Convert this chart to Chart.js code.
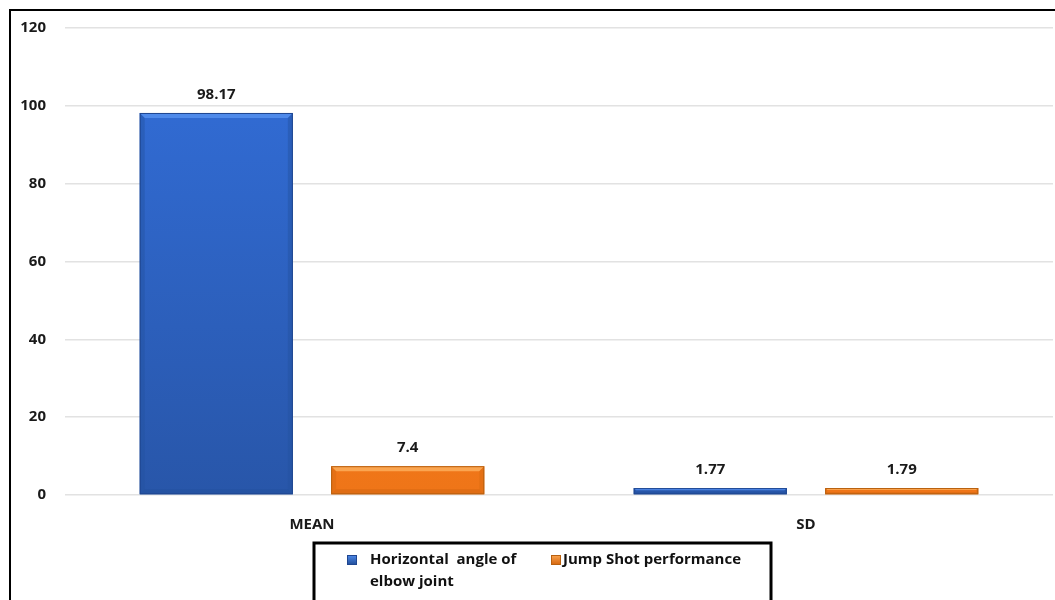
<!DOCTYPE html>
<html>
<head>
<meta charset="utf-8">
<script src="https://cdn.jsdelivr.net/npm/chart.js@4"></script>
<style>
  html, body { margin: 0; padding: 0; background: #ffffff; }
  #wrap { position: relative; width: 1055px; height: 600px; }
  #frame { position: absolute; left: 9px; top: 9px; right: 0; bottom: 0;
           border-left: 2px solid #000; border-top: 2px solid #000; pointer-events: none; }
  canvas { position: absolute; left: 0; top: 0; }
</style>
</head>
<body>
<div id="wrap">
  <canvas id="chart" width="1055" height="600"></canvas>
  <div id="frame"></div>
</div>
<script>
// Statistics shown on the x axis
const categories = ['MEAN', 'SD'];

// Series
const seriesNames = ['Horizontal  angle of elbow joint', 'Jump Shot performance'];
const elbowAngle = [98.17, 1.77];
const jumpShot = [7.4, 1.79];

// Value axis ticks
const yTicks = [0, 20, 40, 60, 80, 100, 120];

const FONT = '"Open Sans", Lato, "Liberation Sans", sans-serif';
const FONT_SIZE = 15;

// Palette: base, light edge, dark edge
const palette = [
  { base: '#2f6bd3', light: '#4f8aea', dark: '#24529f', outline: '#1f4690' },
  { base: '#f47b1c', light: '#fba550', dark: '#d86a12', outline: '#b8600f' }
];

function barGradient(ctx, i) {
  const chart = ctx.chart;
  const area = chart.chartArea;
  if (!area) return palette[i].base;
  const g = chart.ctx.createLinearGradient(0, area.top, 0, area.bottom);
  if (i === 0) {
    g.addColorStop(0, '#336fdb');
    g.addColorStop(1, '#2856a9');
  } else {
    g.addColorStop(0, '#f7851f');
    g.addColorStop(1, '#ef7518');
  }
  return g;
}

// Bevelled edges on each bar
const bevelPlugin = {
  id: 'bevel',
  afterDatasetsDraw(chart) {
    const c = chart.ctx;
    chart.data.datasets.forEach((ds, di) => {
      const meta = chart.getDatasetMeta(di);
      const p = palette[di];
      meta.data.forEach(bar => {
        const { x, y, base, width } = bar.getProps(['x', 'y', 'base', 'width'], true);
        const l = x - width / 2, r = x + width / 2, t = y, b = base;
        const h = b - t;
        const s = Math.max(1.5, Math.min(5, h / 3));
        c.save();
        // top light edge
        c.fillStyle = p.light;
        c.beginPath();
        c.moveTo(l, t); c.lineTo(r, t); c.lineTo(r - s, t + s); c.lineTo(l + s, t + s); c.closePath();
        c.fill();
        // bottom dark edge
        c.globalAlpha = 0.7;
        c.fillStyle = p.dark;
        c.beginPath();
        c.moveTo(l, b); c.lineTo(r, b); c.lineTo(r - s, b - s); c.lineTo(l + s, b - s); c.closePath();
        c.fill();
        // side edges
        c.globalAlpha = 0.45;
        c.beginPath();
        c.moveTo(l, t); c.lineTo(l + s, t + s); c.lineTo(l + s, b - s); c.lineTo(l, b); c.closePath();
        c.fill();
        c.beginPath();
        c.moveTo(r, t); c.lineTo(r - s, t + s); c.lineTo(r - s, b - s); c.lineTo(r, b); c.closePath();
        c.fill();
        c.globalAlpha = 1;
        c.strokeStyle = p.outline;
        c.lineWidth = 1;
        c.strokeRect(l + 0.5, t + 0.5, width - 1, h - 1);
        c.restore();
      });
    });
  }
};

// Value labels above bars
const valueLabels = {
  id: 'valueLabels',
  afterDatasetsDraw(chart) {
    const c = chart.ctx;
    c.save();
    c.font = 'bold ' + FONT_SIZE + 'px ' + FONT;
    c.fillStyle = '#1a1a1a';
    c.textAlign = 'center';
    c.textBaseline = 'middle';
    chart.data.datasets.forEach((ds, di) => {
      chart.getDatasetMeta(di).data.forEach((bar, i) => {
        c.fillText(String(ds.data[i]), bar.x, bar.y - 18);
      });
    });
    c.restore();
  }
};

// Boxed legend under the axis
const boxLegend = {
  id: 'boxLegend',
  afterDraw(chart) {
    const c = chart.ctx;
    const left = 314, right = 771, top = 543;
    c.save();
    c.strokeStyle = '#000';
    c.lineWidth = 3;
    c.strokeRect(left, top, right - left, 80);
    c.font = 'bold ' + FONT_SIZE + 'px ' + FONT;
    c.textBaseline = 'middle';
    c.textAlign = 'left';
    const starts = [347, 551];
    const textOffsets = [23, 12];
    const maxW = 170;
    chart.data.datasets.forEach((ds, di) => {
      const x0 = starts[di];
      const p = palette[di];
      // marker
      const mg = c.createLinearGradient(0, 555, 0, 564);
      mg.addColorStop(0, p.light);
      mg.addColorStop(1, p.dark);
      c.fillStyle = mg;
      c.fillRect(x0, 555, 10, 10);
      c.strokeStyle = p.outline;
      c.lineWidth = 1;
      c.strokeRect(x0 + 0.5, 555.5, 9, 9);
      // wrapped text
      const words = ds.label.split(' ');
      const lines = [];
      let cur = '';
      words.forEach(w => {
        const test = cur === '' ? w : cur + ' ' + w;
        if (di === 0 && c.measureText(test).width > maxW && cur !== '') {
          lines.push(cur); cur = w;
        } else { cur = test; }
      });
      lines.push(cur);
      c.fillStyle = '#111';
      lines.forEach((ln, k) => c.fillText(ln, x0 + textOffsets[di], 560 + k * 22));
    });
    c.restore();
  }
};

new Chart(document.getElementById('chart'), {
  type: 'bar',
  data: {
    labels: categories,
    datasets: [
      { label: seriesNames[0], data: elbowAngle,
        backgroundColor: ctx => barGradient(ctx, 0), borderWidth: 0 },
      { label: seriesNames[1], data: jumpShot,
        backgroundColor: ctx => barGradient(ctx, 1), borderWidth: 0 }
    ]
  },
  options: {
    responsive: false,
    animation: false,
    events: [],
    categoryPercentage: 0.775,
    barPercentage: 0.80,
    layout: { padding: { top: 28, right: 2, left: 0, bottom: 0 } },
    plugins: {
      legend: { display: false },
      tooltip: { enabled: false }
    },
    scales: {
      x: {
        grid: { display: false },
        border: { display: false },
        ticks: { padding: 13, color: '#1a1a1a', font: { family: FONT, size: FONT_SIZE, weight: 'bold' } },
        afterFit: s => { s.height = 105; }
      },
      y: {
        min: 0, max: 120,
        afterBuildTicks: s => { s.ticks = yTicks.map(v => ({ value: v })); },
        grid: { color: '#e2e2e2', lineWidth: 1.5, drawTicks: false },
        border: { display: false },
        ticks: { padding: 19, color: '#1a1a1a', font: { family: FONT, size: FONT_SIZE, weight: 'bold' } },
        afterFit: s => { s.width = 65; }
      }
    }
  },
  plugins: [bevelPlugin, valueLabels, boxLegend]
});
</script>
</body>
</html>
